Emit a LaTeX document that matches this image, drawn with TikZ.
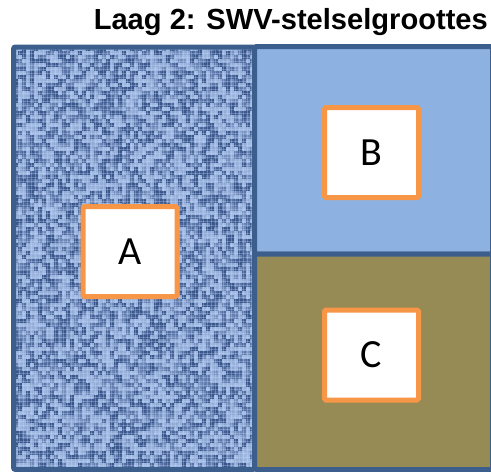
\documentclass[tikz,border=0pt]{standalone}
\usepackage{fontspec}
\setmainfont{Liberation Sans}
\newfontfamily\lettfont{Carlito}
\definecolor{edgeblue}{HTML}{3B5E8C}
\definecolor{panelB}{HTML}{8DB1E0}
\definecolor{panelC}{HTML}{968B55}
\definecolor{orangeedge}{HTML}{F79646}
\definecolor{texlight}{HTML}{B3CCF3}
\definecolor{texdark}{HTML}{25427A}
\tikzset{
  panel/.style={draw=edgeblue, line width=5pt, rounded corners=2pt},
  labelbox/.style={draw=orangeedge, fill=white, line width=5pt, rounded corners=1.5pt,
    minimum width=94pt, minimum height=90pt, inner sep=0pt, font=\lettfont\fontsize{40}{40}\selectfont},
  titletext/.style={font=\bfseries\fontsize{29.1}{32}\selectfont, anchor=base east, inner sep=0pt}
}
\begin{document}
\begin{tikzpicture}[x=1pt,y=-1pt]
\useasboundingbox (0,0) rectangle (491,472);
\clip (0,0) rectangle (491,472);
% texture of panel A
\pgfmathsetseed{7}
\begin{scope}
\clip (13.5,47) rectangle (254.5,469.5);
\fill[texdark!50!texlight] (13.5,47) rectangle (254.5,469.5);
\foreach \i in {0,...,60}{
  \foreach \j in {0,...,106}{
    \pgfmathrandominteger{\r}{0}{100}
    \pgfmathtruncatemacro{\m}{\r<45 ? 12+\r/3 : (\r<85 ? 40+(\r-45) : 85)}
    \fill[texdark!\m!texlight] ({13.5+4*\i},{47+4*\j}) rectangle ++(4,4);
  }
}
\foreach \i in {0,...,60}{
  \draw[texlight!70!white, line width=0.7pt, opacity=0.3] ({15+4*\i},47) -- ++(0,423);
}
\foreach \j in {0,...,106}{
  \draw[texlight!70!white, line width=0.7pt, opacity=0.3] (13.5,{49+4*\j}) -- ++(242,0);
}
\end{scope}
\draw[panel] (13.5,47) rectangle (254.5,469.5);
% panels B and C
\draw[panel, fill=panelB] (254.5,46.5) rectangle (492.5,254);
\draw[panel, fill=panelC] (254.5,254) rectangle (492.5,469.5);
% label boxes
\node[labelbox] (A) at (130,251.5) {A};
\node[labelbox] (B) at (371.5,152.5) {B};
\node[labelbox] (C) at (371.5,355) {C};
% title
\node[titletext] (title) at (488,29) {Laag 2: SWV-stelselgroottes};
\end{tikzpicture}
\end{document}
